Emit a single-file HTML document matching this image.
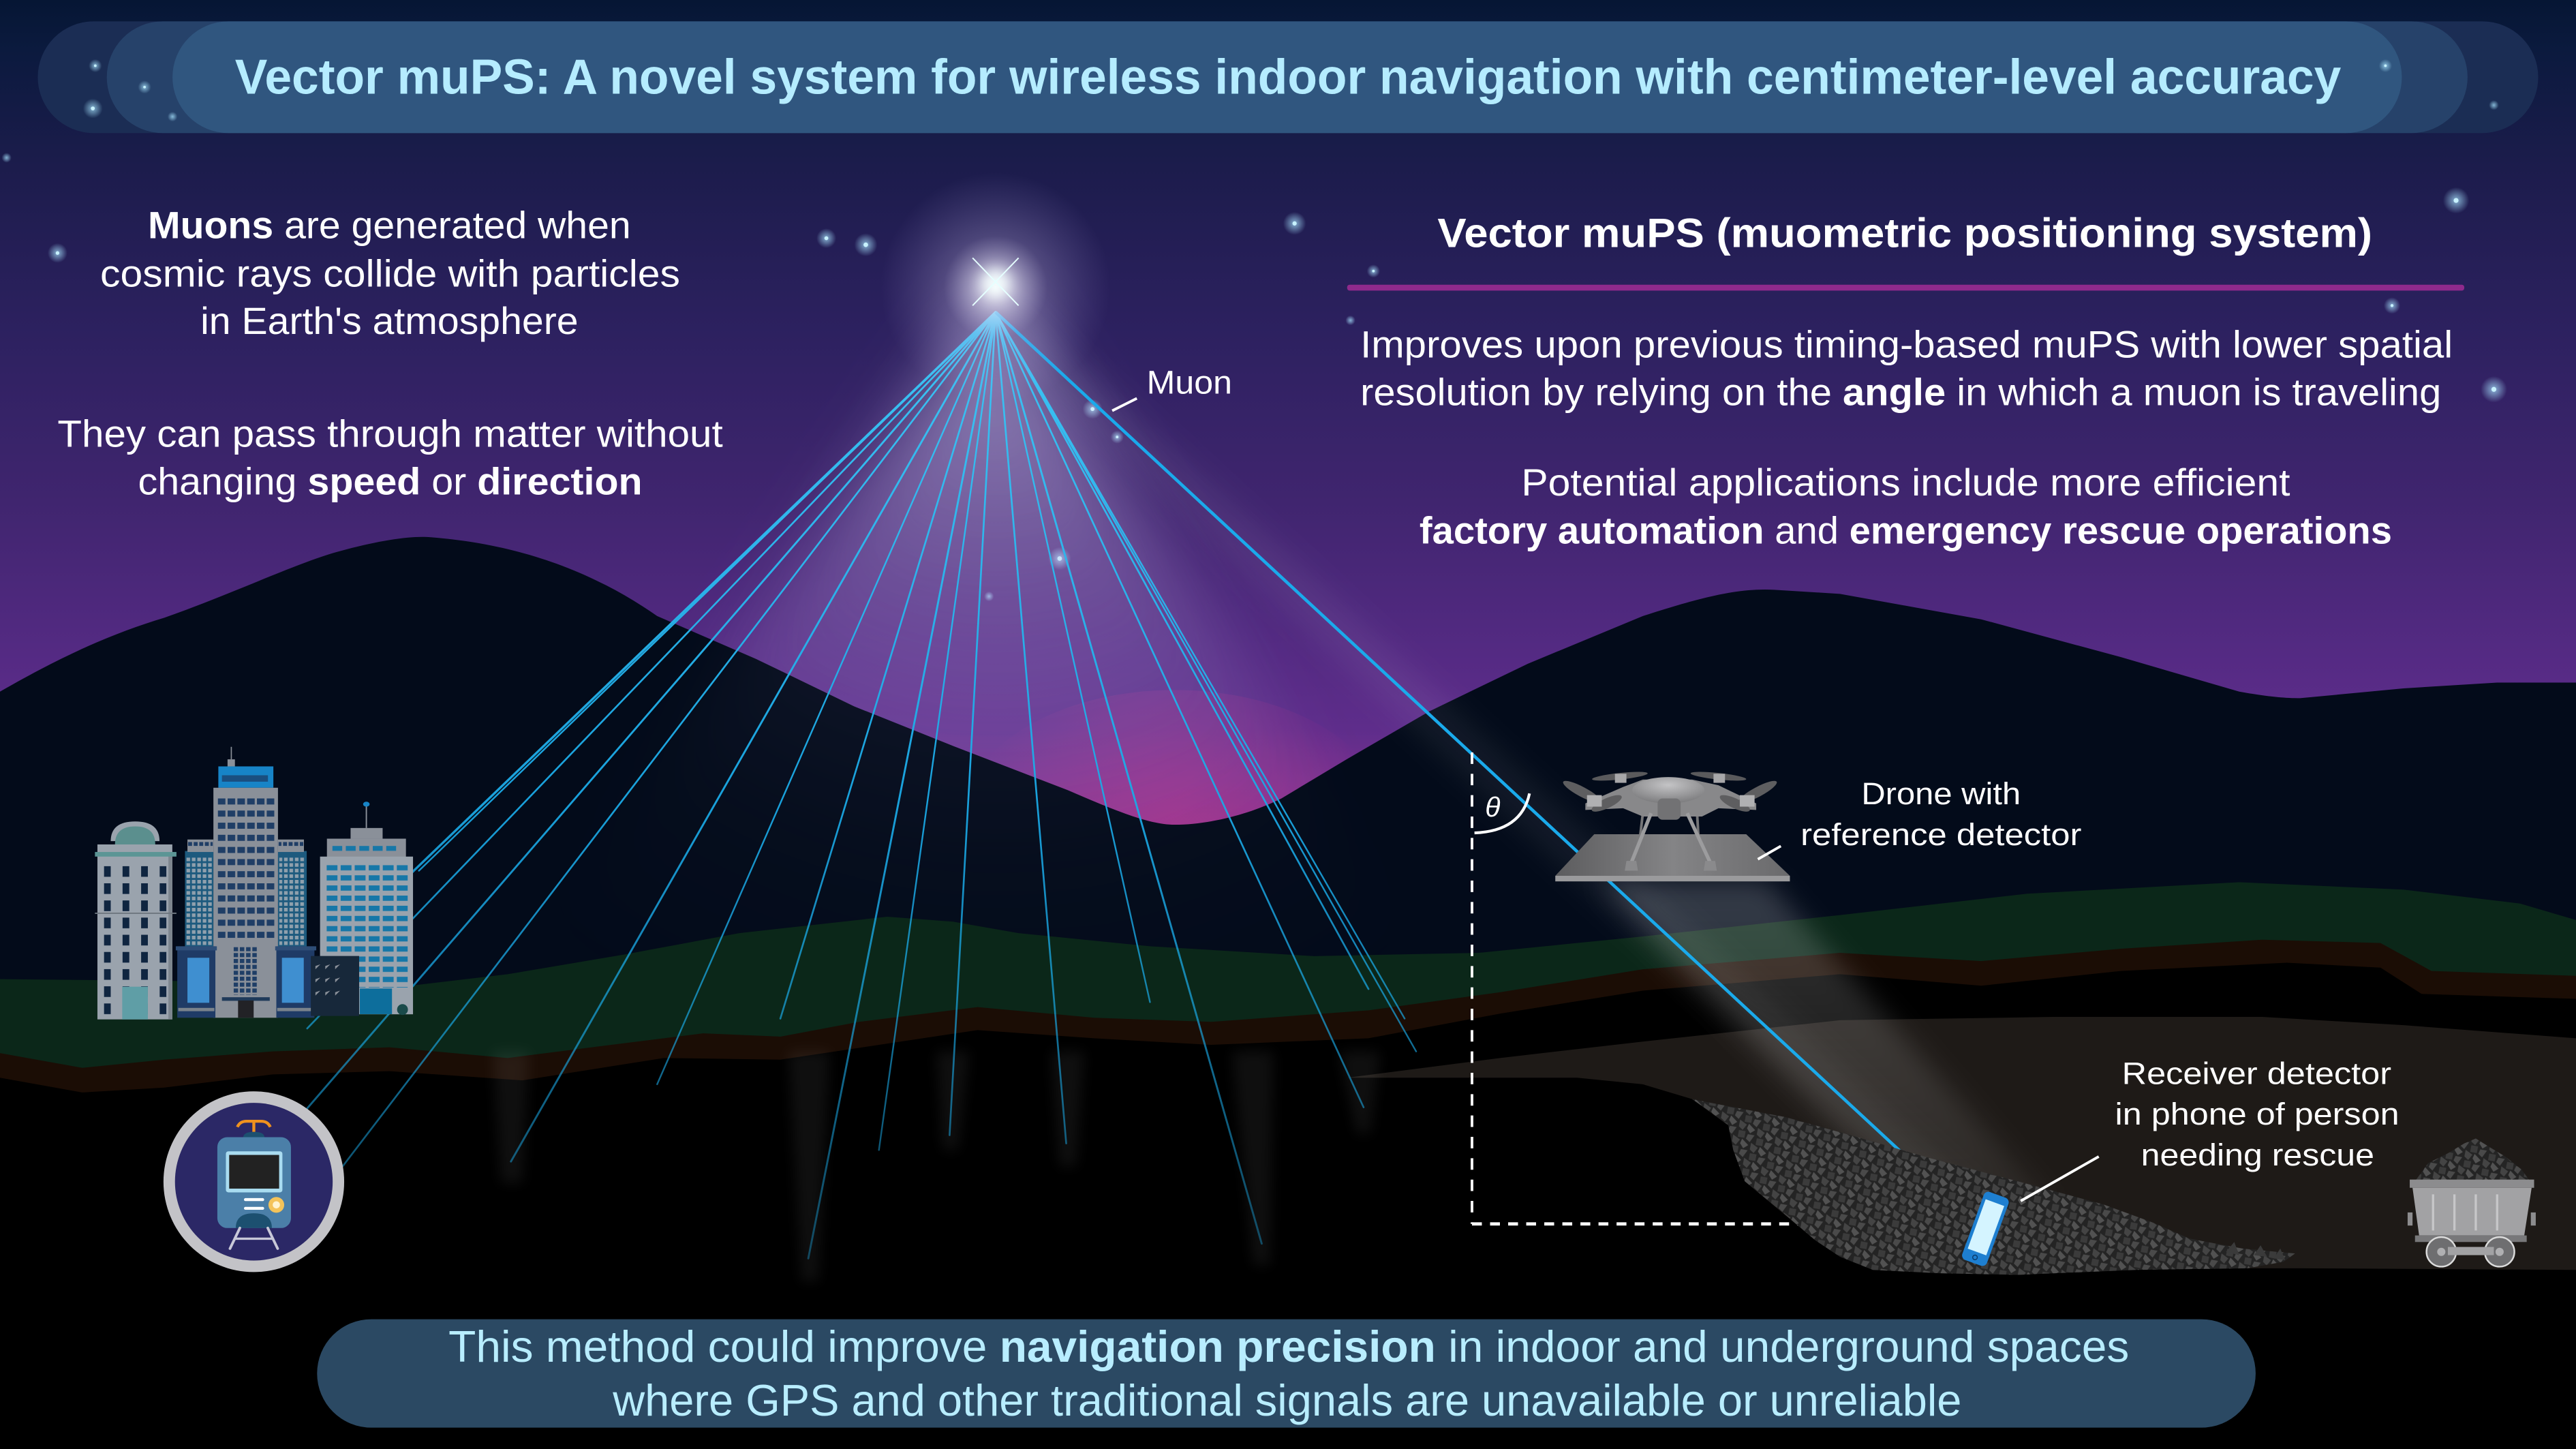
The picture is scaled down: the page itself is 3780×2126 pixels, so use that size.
<!DOCTYPE html>
<html><head><meta charset="utf-8"><style>html,body{margin:0;padding:0;background:#000;}svg{display:block}</style></head>
<body>
<svg xmlns="http://www.w3.org/2000/svg" width="3780" height="2126" viewBox="0 0 1568 882" preserveAspectRatio="none" font-family="'Liberation Sans', sans-serif">
<defs>
<linearGradient id="sky" x1="0" y1="0" x2="0" y2="510" gradientUnits="userSpaceOnUse">
<stop offset="0" stop-color="#061634"/><stop offset="0.06" stop-color="#0b1a3e"/><stop offset="0.2" stop-color="#1c1c4c"/>
<stop offset="0.4" stop-color="#2d2160"/><stop offset="0.6" stop-color="#40256f"/><stop offset="0.78" stop-color="#542a83"/>
<stop offset="0.87" stop-color="#5e2d8b"/><stop offset="0.93" stop-color="#75308f"/><stop offset="1" stop-color="#932e8c"/>
</linearGradient>
<radialGradient id="sg"><stop offset="0" stop-color="#a8e4ff" stop-opacity="0.75"/><stop offset="1" stop-color="#a8e4ff" stop-opacity="0"/></radialGradient>
<radialGradient id="halo" cx="606" cy="175" r="70" gradientUnits="userSpaceOnUse"><stop offset="0" stop-color="#ffffff" stop-opacity="0.95"/><stop offset="0.15" stop-color="#f2f0ff" stop-opacity="0.7"/><stop offset="0.45" stop-color="#c8bde8" stop-opacity="0.25"/><stop offset="1" stop-color="#b0a0e0" stop-opacity="0"/></radialGradient>
<radialGradient id="fan" cx="606" cy="200" r="480" gradientUnits="userSpaceOnUse"><stop offset="0" stop-color="#e8e0ff" stop-opacity="0.45"/><stop offset="0.35" stop-color="#c8b8ee" stop-opacity="0.2"/><stop offset="0.7" stop-color="#a090c8" stop-opacity="0.05"/><stop offset="1" stop-color="#8070b0" stop-opacity="0"/></radialGradient>
<linearGradient id="ray" x1="0" y1="190" x2="0" y2="780" gradientUnits="userSpaceOnUse"><stop offset="0" stop-color="#3ec4f4"/><stop offset="0.5" stop-color="#1aa9e6" stop-opacity="0.95"/><stop offset="1" stop-color="#1aa9e6" stop-opacity="0.35"/></linearGradient>
<linearGradient id="plat" x1="0" y1="0" x2="1" y2="0"><stop offset="0" stop-color="#5c5c5e"/><stop offset="0.5" stop-color="#848486"/><stop offset="1" stop-color="#6a6a6c"/></linearGradient>
<radialGradient id="dome" cx="0.5" cy="0.3" r="0.7"><stop offset="0" stop-color="#c4c4c6"/><stop offset="1" stop-color="#7c7c7e"/></radialGradient>
<linearGradient id="beam" x1="0" y1="536" x2="0" y2="750" gradientUnits="userSpaceOnUse"><stop offset="0" stop-color="#ffffff" stop-opacity="0.2"/><stop offset="1" stop-color="#ffffff" stop-opacity="0.05"/></linearGradient>
<radialGradient id="pink" cx="715" cy="500" r="120" gradientUnits="userSpaceOnUse"><stop offset="0" stop-color="#a8308a" stop-opacity="0.7"/><stop offset="1" stop-color="#a8308a" stop-opacity="0"/></radialGradient>
<filter id="blur4" x="-50%" y="-50%" width="200%" height="200%"><feGaussianBlur stdDeviation="4"/></filter>
<filter id="blur8" x="-50%" y="-50%" width="200%" height="200%"><feGaussianBlur stdDeviation="8"/></filter>
<filter id="blur20" x="-50%" y="-50%" width="200%" height="200%"><feGaussianBlur stdDeviation="20"/></filter>
<pattern id="rk" width="12" height="10" patternUnits="userSpaceOnUse" patternTransform="rotate(25)">
<rect width="12" height="10" fill="#242424"/>
<polygon points="0,0 5,1 4,5 1,4" fill="#444444"/><polygon points="6,0 11,2 9,5 6,3" fill="#525252"/>
<polygon points="2,6 6,5 7,9 3,10" fill="#3b3b3b"/><polygon points="8,6 12,5 11,10 8,9" fill="#4a4a4a"/>
</pattern>
<pattern id="winA" x="63.3" y="527.2" width="11.3" height="10.45" patternUnits="userSpaceOnUse"><rect width="4.1" height="6.5" fill="#0f2540"/></pattern>
<pattern id="winB" x="132.6" y="486" width="5.95" height="7.38" patternUnits="userSpaceOnUse"><rect width="4.6" height="3.7" fill="#1f3e66"/></pattern>
<pattern id="winC" x="198.8" y="526.6" width="8.55" height="6.18" patternUnits="userSpaceOnUse"><rect width="6.6" height="3.2" fill="#1677a8"/></pattern>
<pattern id="winW" x="113.5" y="522" width="3.3" height="3.4" patternUnits="userSpaceOnUse"><rect width="2.2" height="2.2" fill="#8fa0ad"/></pattern>
<pattern id="winL" x="142.2" y="576.5" width="3.8" height="3.6" patternUnits="userSpaceOnUse"><rect width="2.7" height="2.5" fill="#1f3e66"/></pattern>
<pattern id="winU" x="202.3" y="514.9" width="8.2" height="5" patternUnits="userSpaceOnUse"><rect width="6" height="3" fill="#1677a8"/></pattern>
<pattern id="winP" x="114.5" y="512.5" width="3.4" height="5" patternUnits="userSpaceOnUse"><rect width="2.4" height="2.4" fill="#1f3e66"/></pattern>
</defs>

<!-- sky -->
<rect width="1568" height="882" fill="url(#sky)"/>
<ellipse cx="715" cy="500" rx="130" ry="80" fill="url(#pink)"/>

<!-- stars -->
<g>
<circle cx="35" cy="154" r="6" fill="url(#sg)"/><circle cx="35" cy="154" r="1.1" fill="#c8f2ff"/>
<circle cx="503" cy="145" r="6" fill="url(#sg)"/><circle cx="503" cy="145" r="1.2" fill="#c8f2ff"/>
<circle cx="527" cy="149" r="7" fill="url(#sg)"/><circle cx="527" cy="149" r="1.4" fill="#c8f2ff"/>
<circle cx="788" cy="136" r="7" fill="url(#sg)"/><circle cx="788" cy="136" r="1.3" fill="#c8f2ff"/>
<circle cx="836" cy="165" r="4" fill="url(#sg)"/><circle cx="836" cy="165" r="0.8" fill="#c8f2ff"/>
<circle cx="822" cy="195" r="3" fill="url(#sg)"/>
<circle cx="1495" cy="122" r="8" fill="url(#sg)"/><circle cx="1495" cy="122" r="1.5" fill="#c8f2ff"/>
<circle cx="1456" cy="186" r="5" fill="url(#sg)"/><circle cx="1456" cy="186" r="0.9" fill="#c8f2ff"/>
<circle cx="1518" cy="237" r="8" fill="url(#sg)"/><circle cx="1518" cy="237" r="1.5" fill="#c8f2ff"/>
<circle cx="665" cy="249" r="6" fill="url(#sg)"/><circle cx="665" cy="249" r="1.2" fill="#c8f2ff"/>
<circle cx="680" cy="266" r="4" fill="url(#sg)"/><circle cx="680" cy="266" r="0.8" fill="#c8f2ff"/>
<circle cx="645" cy="340" r="7" fill="url(#sg)"/><circle cx="645" cy="340" r="1.4" fill="#c8f2ff"/>
<circle cx="602" cy="363" r="3" fill="url(#sg)"/>
<circle cx="4" cy="96" r="3" fill="url(#sg)"/>
</g>

<!-- title banner -->
<rect x="23" y="13" width="1522" height="68" rx="34" fill="#1b2d54"/>
<rect x="65" y="13" width="1437" height="68" rx="34" fill="#26426a"/>
<rect x="105" y="13" width="1357" height="68" rx="34" fill="#30567f"/>
<circle cx="58" cy="40" r="4" fill="url(#sg)"/><circle cx="58" cy="40" r="0.8" fill="#c8f2ff"/>
<circle cx="88" cy="53" r="4" fill="url(#sg)"/><circle cx="88" cy="53" r="0.8" fill="#c8f2ff"/>
<circle cx="56.5" cy="66" r="6" fill="url(#sg)"/><circle cx="56.5" cy="66" r="1.2" fill="#c8f2ff"/>
<circle cx="105" cy="71" r="3" fill="url(#sg)"/>
<circle cx="1452" cy="40" r="4" fill="url(#sg)"/><circle cx="1452" cy="40" r="0.8" fill="#c8f2ff"/>
<circle cx="1518" cy="64" r="3" fill="url(#sg)"/>
<text x="143" y="57" font-size="30" font-weight="bold" fill="#b5ecff" textLength="1282" lengthAdjust="spacingAndGlyphs">Vector muPS: A novel system for wireless indoor navigation with centimeter-level accuracy</text>

<!-- ray glow fan (sky) -->
<polygon points="606,180 200,720 330,740 840,640 860,560" fill="url(#fan)" filter="url(#blur20)"/>

<!-- mountains -->
<path d="M0,421 C40,398 70,385 100,376 C140,362 180,343 205,336 C230,329 250,326 262,327 C300,330 350,340 400,375 L460,401 L520,430 L580,454 L650,481 C680,494 700,502 715,502 C735,502 760,496 780,486 L820,462 L870,433 L930,404 L1000,375 C1040,362 1060,358 1080,359 L1120,361.5 L1206,377 L1291,400 L1363,421 C1380,424 1390,425 1400,425 L1463,419 L1520,415.5 L1568,415.5 L1568,882 L0,882 Z" fill="#030b1a"/>
<!-- glow over mountains -->
<polygon points="606,190 200,720 330,740 840,640 860,560" fill="url(#fan)" opacity="0.4" filter="url(#blur20)"/>

<!-- green layer -->
<path d="M0,596 L100,597 L250,600 L309,593 L380,581 L450,568 L540,558 L580,561 L620,568 L700,576 L800,582 L900,580 L1000,570 L1120,557 L1234,544 L1363,537 L1463,541.5 L1534,550 L1568,560 L1568,882 L0,882 Z" fill="#0b2719"/>
<!-- brown layer -->
<path d="M0,641 L50,650 L100,645 L166,640 L237,637.5 L309,644 L380,635 L428,629 L475,631 L523,622 L595,613 L666,619.5 L737,622 L833,615 L913,604 L1000,590 L1120,580 L1206,585 L1291,577.5 L1377,572 L1449,574 L1480,591 L1568,594 L1568,882 L0,882 Z" fill="#1b0d05"/>
<!-- black underground -->
<path d="M0,656 L50,665 L100,662 L166,654 L237,652 L318,657.6 L404,644 L475,645 L595,627 L666,632 L737,636 L833,632 L913,617 L1000,603 L1120,593 L1206,600 L1291,591 L1392,586 L1449,589 L1474,605 L1568,608 L1568,882 L0,882 Z" fill="#000000"/>
<!-- cave -->
<path d="M820,656 L913,644 L1000,634 L1120,621 L1250,619 L1377,619 L1463,624 L1568,632 L1568,773 L1400,772 L1300,772 L1230,776 L1140,773 L1105,755 L1062,719 L1052,685 L1030,669 L1000,660 L960,656 Z" fill="#1e1a17"/>

<!-- faint underground ray glows -->
<g opacity="0.06" fill="#ffffff" filter="url(#blur4)">
<polygon points="300,640 322,640 318,720 305,720"/>
<polygon points="480,640 505,640 498,780 488,780"/>
<polygon points="570,640 590,640 583,700 574,700"/>
<polygon points="640,640 660,640 655,710 645,710"/>
<polygon points="750,640 775,640 773,770 763,770"/>
<polygon points="815,640 840,640 834,690 826,690"/>
</g>

<!-- beam from drone to phone -->
<polygon points="975,536 1075,536 1250,735 1175,748" fill="url(#beam)" filter="url(#blur8)"/>
<line x1="606" y1="190" x2="1199" y2="740" stroke="#ffffff" stroke-opacity="0.06" stroke-width="26" filter="url(#blur8)"/>

<!-- rays -->
<g stroke="url(#ray)" stroke-linecap="round" fill="none">
<line x1="606" y1="190" x2="230" y2="551" stroke-width="1.4"/>
<line x1="606" y1="190" x2="187" y2="626" stroke-width="1.1"/>
<line x1="606" y1="190" x2="172" y2="692" stroke-width="1.2"/>
<line x1="606" y1="190" x2="181" y2="746" stroke-width="1.1"/>
<line x1="606" y1="190" x2="255" y2="530" stroke-width="1.0"/>
<line x1="606" y1="190" x2="311" y2="707" stroke-width="1.2"/>
<line x1="606" y1="190" x2="400" y2="660" stroke-width="1.0"/>
<line x1="606" y1="190" x2="475" y2="620" stroke-width="1.1"/>
<line x1="606" y1="190" x2="492" y2="766" stroke-width="1.2"/>
<line x1="606" y1="190" x2="535" y2="700" stroke-width="1.0"/>
<line x1="606" y1="190" x2="578" y2="691" stroke-width="1.1"/>
<line x1="606" y1="190" x2="649" y2="696" stroke-width="1.1"/>
<line x1="606" y1="190" x2="700" y2="610" stroke-width="1.0"/>
<line x1="606" y1="190" x2="768" y2="757" stroke-width="1.2"/>
<line x1="606" y1="190" x2="830" y2="674" stroke-width="1.1"/>
<line x1="606" y1="190" x2="833" y2="602" stroke-width="1.1"/>
<line x1="606" y1="190" x2="855" y2="620" stroke-width="1.0"/>
<line x1="606" y1="190" x2="862" y2="640" stroke-width="1.0"/>
</g>
<line x1="606" y1="190" x2="1199" y2="740" stroke="#1aaaeb" stroke-width="1.9"/>

<!-- apex star -->
<circle cx="606" cy="175" r="70" fill="url(#halo)"/>
<circle cx="606" cy="172" r="8" fill="#f4ffff" opacity="0.9" filter="url(#blur4)"/>
<line x1="592" y1="157" x2="620" y2="186" stroke="#e6ffff" stroke-width="0.8"/>
<line x1="620" y1="157" x2="592" y2="186" stroke="#e6ffff" stroke-width="0.8"/>

<!-- Muon label -->
<line x1="677" y1="250" x2="692" y2="242.5" stroke="#ffffff" stroke-width="1.6"/>
<text x="698" y="239.5" font-size="20" fill="#ffffff" textLength="52" lengthAdjust="spacingAndGlyphs">Muon</text>

<!-- Left texts -->
<g fill="#ffffff" font-size="23">
<text x="90" y="145" textLength="294" lengthAdjust="spacingAndGlyphs"><tspan font-weight="bold">Muons</tspan> are generated when</text>
<text x="61" y="174.5" textLength="353" lengthAdjust="spacingAndGlyphs">cosmic rays collide with particles</text>
<text x="122" y="203.2" textLength="230" lengthAdjust="spacingAndGlyphs">in Earth's atmosphere</text>
<text x="35" y="272" textLength="405" lengthAdjust="spacingAndGlyphs">They can pass through matter without</text>
<text x="84" y="301" textLength="307" lengthAdjust="spacingAndGlyphs">changing <tspan font-weight="bold">speed</tspan> or <tspan font-weight="bold">direction</tspan></text>
</g>

<!-- Right texts -->
<text x="875" y="150.3" font-size="25" font-weight="bold" fill="#ffffff" textLength="569" lengthAdjust="spacingAndGlyphs">Vector muPS (muometric positioning system)</text>
<rect x="820" y="173.3" width="680" height="3.6" rx="1.5" fill="#8f2a8c"/>
<g fill="#ffffff" font-size="23">
<text x="828" y="217.5" textLength="665" lengthAdjust="spacingAndGlyphs">Improves upon previous timing-based muPS with lower spatial</text>
<text x="828" y="246.6" textLength="658" lengthAdjust="spacingAndGlyphs">resolution by relying on the <tspan font-weight="bold">angle</tspan> in which a muon is traveling</text>
<text x="926" y="301.6" textLength="468" lengthAdjust="spacingAndGlyphs">Potential applications include more efficient</text>
<text x="864" y="330.8" textLength="592" lengthAdjust="spacingAndGlyphs"><tspan font-weight="bold">factory automation</tspan> and <tspan font-weight="bold">emergency rescue operations</tspan></text>
</g>

<!-- Buildings -->
<g>
<path d="M67.4,512 Q67.4,500 82.3,500 Q97.1,500 97.1,512 Z" fill="#9aa3ad"/>
<path d="M70,514 Q70,503 82.3,503 Q94.5,503 94.5,514 Z" fill="#5b8f8e"/>
<rect x="59.3" y="514" width="45.6" height="106.5" fill="#9aa3ad"/>
<rect x="102.5" y="520" width="2.4" height="100.5" fill="#7d868f"/>
<rect x="57.8" y="518.6" width="49.6" height="2.8" fill="#5b9595"/>
<rect x="57.8" y="555.5" width="49.6" height="0.8" fill="#6f7880"/>
<rect x="63.3" y="527.2" width="38" height="94" fill="url(#winA)"/>
<rect x="74.4" y="600.6" width="15.6" height="19.9" fill="#5f9ea6"/>
<rect x="112.6" y="518" width="17.3" height="60" fill="#1d5a7e"/>
<rect x="113.5" y="522" width="16" height="54" fill="url(#winW)"/>
<rect x="114.1" y="511" width="15.8" height="7.6" fill="#8a9099"/>
<rect x="114.5" y="512.5" width="15" height="3" fill="url(#winP)"/>
<rect x="169.2" y="518" width="17.5" height="60" fill="#1d5a7e"/>
<rect x="170" y="522" width="16" height="54" fill="url(#winW)"/>
<rect x="169.2" y="511" width="15.8" height="7.6" fill="#8a9099"/>
<rect x="169.6" y="512.5" width="15" height="3" fill="url(#winP)"/>
<line x1="140.8" y1="454.6" x2="140.8" y2="462.2" stroke="#8a9099" stroke-width="0.7"/>
<rect x="138.5" y="462.2" width="4.5" height="4.3" fill="#8a9099"/>
<rect x="132.9" y="466.5" width="33.5" height="13" fill="#1784c7"/>
<rect x="135.1" y="471.9" width="28" height="3.9" fill="#1a4f80"/>
<rect x="129.9" y="479.5" width="39.3" height="140" fill="#8a9099"/>
<rect x="132.6" y="486" width="35.6" height="88" fill="url(#winB)"/>
<rect x="142.2" y="576.5" width="15" height="29" fill="url(#winL)"/>
<rect x="135.1" y="607" width="29.1" height="2.2" fill="#1f3a5a"/>
<rect x="144.9" y="609" width="9.5" height="10.5" fill="#222226"/>
<rect x="107.9" y="576" width="23.2" height="43.5" fill="#1f3b66"/>
<rect x="107" y="576" width="25" height="2.5" fill="#2e4e78"/>
<rect x="114.1" y="583" width="13.3" height="27.4" fill="#3f8fd0"/>
<rect x="108.5" y="613.5" width="22" height="2" fill="#7a838c"/>
<rect x="168.2" y="576" width="23.2" height="43.5" fill="#1f3b66"/>
<rect x="167.5" y="576" width="25" height="2.5" fill="#2e4e78"/>
<rect x="171.6" y="583" width="13.3" height="27.4" fill="#3f8fd0"/>
<rect x="168.7" y="613.5" width="22" height="2" fill="#7a838c"/>
<line x1="223" y1="490" x2="223" y2="504" stroke="#8a9099" stroke-width="0.8"/>
<ellipse cx="223" cy="489.5" rx="2" ry="1.5" fill="#1784c7"/>
<rect x="213.4" y="504" width="19.5" height="6.5" fill="#8a9099"/>
<rect x="199" y="510.5" width="48.1" height="11" fill="#8a9099"/>
<rect x="202.3" y="514.9" width="41" height="3.1" fill="url(#winU)"/>
<rect x="194.8" y="521.4" width="56.6" height="96" fill="#9aa3ad"/>
<rect x="198.8" y="526.6" width="51" height="74.5" fill="url(#winC)"/>
<rect x="219" y="601.7" width="19.6" height="15.6" fill="#0d6e9c"/>
<circle cx="245" cy="614.5" r="3.3" fill="#1a4a4a"/>
<rect x="189.2" y="581.9" width="29.4" height="36.5" fill="#17283a"/>
<g fill="#8a9099">
<polygon points="192,588 195,587 192,590"/><polygon points="198,588 201,587 198,590"/><polygon points="204,588 207,587 204,590"/>
<polygon points="192,596 195,595 192,598"/><polygon points="198,596 201,595 198,598"/><polygon points="204,596 207,595 204,598"/>
<polygon points="192,604 195,603 192,606"/><polygon points="198,604 201,603 198,606"/><polygon points="204,604 207,603 204,606"/>
</g>
</g>

<!-- Train icon -->
<circle cx="154.5" cy="719.3" r="55" fill="#c3c3c7"/>
<circle cx="154.5" cy="719.3" r="48" fill="#2b2866"/>
<g>
<path d="M144.5,686 Q146,682.5 150,682.5 L159,682.5 Q163,682.5 164.5,686" stroke="#f0921e" stroke-width="1.8" fill="none"/>
<line x1="154.5" y1="682.5" x2="154.5" y2="689" stroke="#f0921e" stroke-width="1.8"/>
<path d="M148,692.5 Q148,689 154.5,689 Q161,689 161,692.5 Z" fill="#1c5070"/>
<rect x="132.3" y="692.2" width="44.8" height="55.3" rx="6" fill="#4b7fa8"/>
<rect x="137.5" y="700.8" width="34.4" height="25" rx="1.5" fill="#a9dcf0"/>
<rect x="139.5" y="703" width="30.4" height="20.5" fill="#222222"/>
<rect x="148.5" y="729.3" width="12.3" height="1.8" rx="0.9" fill="#ffffff"/>
<rect x="148.5" y="734.6" width="12.3" height="1.8" rx="0.9" fill="#ffffff"/>
<circle cx="168.2" cy="733.4" r="4.8" fill="#f4c35a"/>
<circle cx="168.2" cy="733.4" r="2.2" fill="#fff3d0"/>
<path d="M143.5,747.5 Q143.5,738.5 154.5,738.5 Q165.5,738.5 165.5,747.5 Z" fill="#1c5070"/>
<line x1="146" y1="747.5" x2="140" y2="760" stroke="#c8c8d8" stroke-width="1.6" stroke-linecap="round"/>
<line x1="163" y1="747.5" x2="169" y2="760" stroke="#c8c8d8" stroke-width="1.6" stroke-linecap="round"/>
<line x1="143" y1="754" x2="166" y2="754" stroke="#c8c8d8" stroke-width="1.4"/>
</g>

<!-- dashed lines & angle -->
<line x1="896" y1="458" x2="896" y2="745" stroke="#ffffff" stroke-width="1.6" stroke-dasharray="7 6"/>
<line x1="896" y1="745" x2="1195" y2="745" stroke="#ffffff" stroke-width="2" stroke-dasharray="6 5"/>
<path d="M897.5,507 Q926,506 931,483" stroke="#ffffff" stroke-width="1.7" fill="none"/>
<text x="904" y="497" font-size="17" font-style="italic" fill="#ffffff">θ</text>

<!-- Drone -->
<g>
<ellipse cx="986" cy="472.5" rx="17" ry="2" fill="#5a5a5c" transform="rotate(-6 986 472.5)"/>
<ellipse cx="1046" cy="472.5" rx="17" ry="2" fill="#5a5a5c" transform="rotate(6 1046 472.5)"/>
<rect x="983" y="471" width="7" height="5.5" fill="#a8a8aa"/>
<rect x="1043" y="471" width="7" height="5.5" fill="#a8a8aa"/>
<line x1="1000" y1="495" x2="998" y2="512" stroke="#767678" stroke-width="1.6"/>
<line x1="1033" y1="495" x2="1034" y2="512" stroke="#767678" stroke-width="1.6"/>
<path d="M965,489 L988,479 L1000,474.5 L1030,474.5 L1046,478 L1069,489 L1069,493 L1046,492 L1036,497 L1000,497 L988,492 L965,493 Z" fill="#88888a"/>
<ellipse cx="1015.5" cy="481" rx="22" ry="8" fill="url(#dome)"/>
<rect x="1009" y="486" width="14" height="13" rx="3" fill="#727274"/>
<ellipse cx="963" cy="482" rx="13" ry="3" fill="#5e5e60" transform="rotate(28 963 482)"/>
<ellipse cx="978" cy="489" rx="10" ry="3" fill="#5e5e60" transform="rotate(-25 978 489)"/>
<ellipse cx="1070" cy="482" rx="13" ry="3" fill="#5e5e60" transform="rotate(-28 1070 482)"/>
<ellipse cx="1056" cy="489" rx="10" ry="3" fill="#5e5e60" transform="rotate(25 1056 489)"/>
<rect x="966" y="484" width="9" height="7" fill="#b0b0b2"/>
<rect x="1059" y="484" width="9" height="7" fill="#b0b0b2"/>
</g>
<polygon points="970.4,507.8 1062.9,507.8 1089.5,533.1 946.7,533.1" fill="url(#plat)"/>
<rect x="946.7" y="533.1" width="142.8" height="3.4" fill="#9a9a9c"/>
<line x1="1005" y1="495" x2="993" y2="525" stroke="#9c9c9e" stroke-width="2.2"/>
<line x1="1027" y1="495" x2="1041" y2="525" stroke="#9c9c9e" stroke-width="2.2"/>
<polygon points="990,524 996,524 997,530 989,530" fill="#8a8a8c"/>
<polygon points="1038,524 1044,524 1045,530 1037,530" fill="#8a8a8c"/>
<line x1="1084" y1="515" x2="1070" y2="523" stroke="#ffffff" stroke-width="1.6"/>
<g fill="#ffffff" font-size="19">
<text x="1133" y="489.5" textLength="97" lengthAdjust="spacingAndGlyphs">Drone with</text>
<text x="1096" y="514.4" textLength="171" lengthAdjust="spacingAndGlyphs">reference detector</text>
</g>

<!-- Rock pile -->
<path d="M1030,669 L1045,672 L1087,680 L1130,692 L1175,705 L1228,719 L1280,733 L1310,744 L1333,754 L1365,760 L1397,763 L1390,768 L1368,772 L1300,773 L1228,776 L1180,775 L1140,773 L1120,765 L1105,755 L1085,738 L1062,719 L1055,700 L1052,685 L1040,676 Z" fill="url(#rk)"/>
<g fill="#3a3a3a">
<polygon points="1372,764 1376,758 1380,765"/><polygon points="1384,766 1388,760 1391,767"/><polygon points="1355,762 1360,756 1363,764"/>
</g>

<!-- Phone -->
<g transform="translate(1208.5 748) rotate(20)">
<rect x="-8" y="-22" width="16" height="44" rx="3" fill="#1e7fd0"/>
<rect x="-6" y="-17" width="12" height="32" fill="#d4f4ff"/>
<circle cx="0" cy="18.5" r="1.4" fill="none" stroke="#0a3a6a" stroke-width="0.6"/>
</g>
<line x1="1277.5" y1="704" x2="1230" y2="731" stroke="#ffffff" stroke-width="1.6"/>
<g fill="#ffffff" font-size="19">
<text x="1291.6" y="659.9" textLength="164" lengthAdjust="spacingAndGlyphs">Receiver detector</text>
<text x="1287.4" y="684.5" textLength="173" lengthAdjust="spacingAndGlyphs">in phone of person</text>
<text x="1303.2" y="709.4" textLength="142" lengthAdjust="spacingAndGlyphs">needing rescue</text>
</g>

<!-- Mine cart -->
<polygon points="1470,719 1478,708 1490,702 1500,696 1507,693 1515,698 1525,704 1535,712 1540,719" fill="url(#rk)"/>
<rect x="1466.8" y="718" width="75.7" height="5" fill="#8c8c8e"/>
<polygon points="1468.5,723 1541,723 1536.5,752 1472.5,752" fill="#a2a2a4"/>
<g stroke="#c6c6c8" stroke-width="1.4">
<line x1="1481" y1="727" x2="1481" y2="749"/><line x1="1494" y1="727" x2="1494" y2="749"/>
<line x1="1507" y1="727" x2="1507" y2="749"/><line x1="1520" y1="727" x2="1520" y2="749"/>
</g>
<rect x="1465.5" y="738" width="3" height="8" fill="#8c8c8e"/>
<rect x="1540.5" y="738" width="3" height="8" fill="#8c8c8e"/>
<rect x="1470" y="752" width="68" height="4" fill="#78787a"/>
<circle cx="1486" cy="762" r="9" fill="#6e6e70" stroke="#dcdcdc" stroke-width="1"/>
<circle cx="1521.5" cy="762" r="9" fill="#6e6e70" stroke="#dcdcdc" stroke-width="1"/>
<rect x="1490" y="759" width="28" height="5" fill="#a2a2a4"/>
<circle cx="1486" cy="762" r="2.5" fill="#b0b0b2"/>
<circle cx="1521.5" cy="762" r="2.5" fill="#b0b0b2"/>

<!-- Bottom banner -->
<rect x="193" y="803" width="1180" height="66" rx="33" fill="#2b4963"/>
<g fill="#b8edff" font-size="27">
<text x="273" y="829" textLength="1023" lengthAdjust="spacingAndGlyphs">This method could improve <tspan font-weight="bold">navigation precision</tspan> in indoor and underground spaces</text>
<text x="373" y="861.7" textLength="821" lengthAdjust="spacingAndGlyphs">where GPS and other traditional signals are unavailable or unreliable</text>
</g>
</svg>
</body></html>
